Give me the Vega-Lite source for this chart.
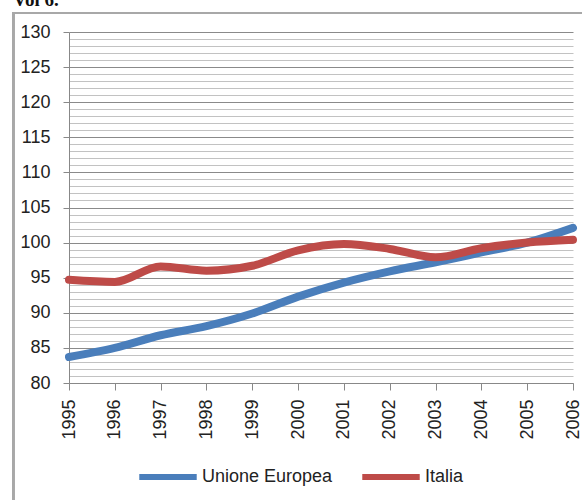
{
  "$schema": "https://vega.github.io/schema/vega-lite/v6.json",
  "autosize": {"type": "none"},
  "width": 504,
  "height": 351,
  "padding": {"left": 69, "top": 32, "right": 9, "bottom": 117},
  "background": "white",
  "config": {
    "view": {"stroke": null},
    "font": "Liberation Sans",
    "axis": {"labelFont": "Liberation Sans", "labelColor": "#222", "labelFontSize": 18}
  },
  "data": {
    "values": [
      {"year": 1995, "series": "Unione Europea", "value": 83.7},
      {"year": 1996, "series": "Unione Europea", "value": 85.0},
      {"year": 1997, "series": "Unione Europea", "value": 86.8},
      {"year": 1998, "series": "Unione Europea", "value": 88.1},
      {"year": 1999, "series": "Unione Europea", "value": 89.9},
      {"year": 2000, "series": "Unione Europea", "value": 92.3},
      {"year": 2001, "series": "Unione Europea", "value": 94.3},
      {"year": 2002, "series": "Unione Europea", "value": 95.9},
      {"year": 2003, "series": "Unione Europea", "value": 97.2},
      {"year": 2004, "series": "Unione Europea", "value": 98.6},
      {"year": 2005, "series": "Unione Europea", "value": 100.0},
      {"year": 2006, "series": "Unione Europea", "value": 102.1},
      {"year": 1995, "series": "Italia", "value": 94.7},
      {"year": 1996, "series": "Italia", "value": 94.4},
      {"year": 1997, "series": "Italia", "value": 96.6},
      {"year": 1998, "series": "Italia", "value": 96.0},
      {"year": 1999, "series": "Italia", "value": 96.7},
      {"year": 2000, "series": "Italia", "value": 98.9},
      {"year": 2001, "series": "Italia", "value": 99.8},
      {"year": 2002, "series": "Italia", "value": 99.1},
      {"year": 2003, "series": "Italia", "value": 97.9},
      {"year": 2004, "series": "Italia", "value": 99.2},
      {"year": 2005, "series": "Italia", "value": 100.0},
      {"year": 2006, "series": "Italia", "value": 100.4}
    ]
  },
  "resolve": {"axis": {"x": "independent", "y": "independent"}},
  "layer": [
    {
      "mark": {"type": "line", "interpolate": "monotone", "strokeWidth": 8, "strokeCap": "round", "strokeJoin": "round"},
      "encoding": {
        "x": {
          "field": "year",
          "type": "quantitative",
          "scale": {"domain": [1995, 2006], "nice": false, "zero": false},
          "axis": {
            "title": null,
            "values": [1995, 1996, 1997, 1998, 1999, 2000, 2001, 2002, 2003, 2004, 2005, 2006],
            "format": "d",
            "labelAngle": -90,
            "labelFontSize": 18,
            "labelPadding": 9,
            "tickSize": 7,
            "tickColor": "#888",
            "domainColor": "#888",
            "grid": false,
            "labelOverlap": false
          }
        },
        "y": {
          "field": "value",
          "type": "quantitative",
          "scale": {"domain": [80, 130], "nice": false, "zero": false},
          "axis": {
            "title": null,
            "values": [80, 80.5, 81, 81.5, 82, 82.5, 83, 83.5, 84, 84.5, 85, 85.5, 86, 86.5, 87, 87.5, 88, 88.5, 89, 89.5, 90, 90.5, 91, 91.5, 92, 92.5, 93, 93.5, 94, 94.5, 95, 95.5, 96, 96.5, 97, 97.5, 98, 98.5, 99, 99.5, 100, 100.5, 101, 101.5, 102, 102.5, 103, 103.5, 104, 104.5, 105, 105.5, 106, 106.5, 107, 107.5, 108, 108.5, 109, 109.5, 110, 110.5, 111, 111.5, 112, 112.5, 113, 113.5, 114, 114.5, 115, 115.5, 116, 116.5, 117, 117.5, 118, 118.5, 119, 119.5, 120, 120.5, 121, 121.5, 122, 122.5, 123, 123.5, 124, 124.5, 125, 125.5, 126, 126.5, 127, 127.5, 128, 128.5, 129, 129.5, 130],
            "labelExpr": "datum.value % 5 === 0 ? datum.label : ''",
            "format": "d",
            "labelOverlap": false,
            "labelPadding": 13,
            "tickSize": {"condition": {"test": "datum.value % 5 === 0", "value": 6}, "value": 0},
            "tickColor": "#888",
            "domainColor": "#888",
            "grid": true,
            "gridColor": {"condition": {"test": "datum.value % 5 === 0", "value": "#8a8a8a"}, "value": "#c2c2c2"},
            "gridWidth": 1
          }
        },
        "color": {
          "field": "series",
          "type": "nominal",
          "scale": {"domain": ["Unione Europea", "Italia"], "range": ["#4a7ebb", "#be4b48"]},
          "legend": {
            "title": null,
            "orient": "none",
            "legendX": 67,
            "legendY": 413,
            "direction": "horizontal",
            "symbolType": "stroke",
            "symbolSize": 3300,
            "symbolStrokeWidth": 6,
            "labelFontSize": 18,
            "labelColor": "#222",
            "labelOffset": 2,
            "columnPadding": 17
          }
        }
      }
    },
    {
      "mark": {"type": "rect", "filled": false, "stroke": "#a8a8a8", "strokeWidth": 2, "clip": false},
      "encoding": {
        "x": {"datum": 1993.78, "type": "quantitative", "axis": null},
        "x2": {"datum": 2008},
        "y": {"datum": 132.7, "type": "quantitative", "axis": null},
        "y2": {"datum": 60}
      }
    },
    {
      "data": {"values": [{"label": "Vol 6."}]},
      "mark": {"type": "text", "align": "left", "baseline": "alphabetic", "font": "Liberation Serif", "fontWeight": "bold", "fontSize": 19, "color": "#111", "clip": false},
      "encoding": {
        "x": {"datum": 1993.78, "type": "quantitative", "axis": null},
        "y": {"datum": 133.77, "type": "quantitative", "axis": null},
        "text": {"field": "label"}
      }
    }
  ]
}
